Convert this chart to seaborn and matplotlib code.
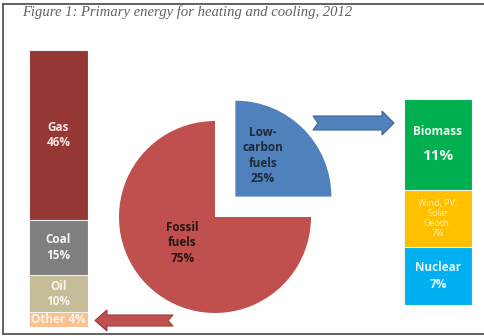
import numpy as np
import pandas as pd
import matplotlib
matplotlib.use("Agg")
import matplotlib.pyplot as plt
from matplotlib.patches import Polygon
from matplotlib.lines import Line2D
import seaborn as sns

# ---- data -------------------------------------------------------------
title = "Figure 1: Primary energy for heating and cooling, 2012"

pie_labels = ["Low-\ncarbon\nfuels", "Fossil\nfuels"]
pie_values = [25, 75]

fossil_names = ["Other", "Oil", "Coal", "Gas"]          # bottom -> top
fossil_values = [4, 10, 15, 46]

lowc_names = ["Nuclear", "Wind, PV,\nSolar\nGeoth.", "Biomass"]  # bottom -> top
lowc_values = [7, 7, 11]

# ---- style ------------------------------------------------------------
sns.set_style("white")
plt.rcParams["font.family"] = ["Open Sans", "DejaVu Sans"]

fossil_colors = {"Gas": "#953735", "Coal": "#7F7F7F", "Oil": "#C4BD97", "Other": "#FAC090"}
fossil_text = {"Gas": "#F6E3E3", "Coal": "#F4F4F4", "Oil": "#F7F5EC", "Other": "#FFF1E4"}
lowc_colors = {"Biomass": "#00B050", "Wind, PV,\nSolar\nGeoth.": "#FFC000", "Nuclear": "#00B0F0"}
lowc_text = {"Biomass": "#E8F8EE", "Wind, PV,\nSolar\nGeoth.": "#FFF0C4", "Nuclear": "#E6F7FE"}
pie_colors = ["#4F81BD", "#C0504D"]

W, H = 485, 336
fig = plt.figure(figsize=(W / 100, H / 100), dpi=100)
fig.patch.set_facecolor("white")


def px_axes(x0, y0, x1, y1):
    """Axes from a pixel box given with y measured from the top."""
    return fig.add_axes([x0 / W, 1 - y1 / H, (x1 - x0) / W, (y1 - y0) / H])


def stacked_column(ax, names, values, colors, total):
    df = pd.DataFrame({"name": names, "value": values})
    df["top"] = df["value"].cumsum()
    # draw tallest cumulative bar first so each smaller one sits on top
    for _, row in df.iloc[::-1].iterrows():
        sns.barplot(x=["col"], y=[row["top"]], color=colors[row["name"]],
                    saturation=1, width=1, edgecolor="#F2F2F2", linewidth=0.8,
                    ax=ax)
    ax.set_xlim(-0.5, 0.5)
    ax.set_ylim(0, total)
    ax.set_axis_off()
    return df


# ---- left column: fossil breakdown -----------------------------------
ax_f = px_axes(29, 50, 88, 327)
df_f = stacked_column(ax_f, fossil_names, fossil_values, fossil_colors, sum(fossil_values))
for _, row in df_f.iterrows():
    mid = row["top"] - row["value"] / 2
    if row["value"] >= 8:
        txt = f"{row['name']}\n{row['value']}%"
    else:
        txt = f"{row['name']} {row['value']}%"
    ax_f.text(0, mid, txt, ha="center", va="center", color=fossil_text[row["name"]],
              fontsize=8.5, fontweight="bold", linespacing=1.25)

# ---- right column: low-carbon breakdown ------------------------------
ax_l = px_axes(404, 99, 472, 305)
df_l = stacked_column(ax_l, lowc_names, lowc_values, lowc_colors, sum(lowc_values))
for _, row in df_l.iterrows():
    mid = row["top"] - row["value"] / 2
    name = row["name"]
    if name == "Biomass":
        ax_l.text(0, mid + 1.5, name, ha="center", va="center", color=lowc_text[name],
                  fontsize=8.5, fontweight="bold")
        ax_l.text(0, mid - 1.4, f"{row['value']}%", ha="center", va="center",
                  color=lowc_text[name], fontsize=11, fontweight="bold")
    elif name == "Nuclear":
        ax_l.text(0, mid, f"{name}\n{row['value']}%", ha="center", va="center",
                  color=lowc_text[name], fontsize=8.5, fontweight="bold", linespacing=1.35)
    else:
        ax_l.text(0, mid, f"{name}\n{row['value']}%", ha="center", va="center",
                  color=lowc_text[name], fontsize=6.5, linespacing=1.1)

# ---- pie: fossil vs low-carbon ---------------------------------------
cx, cy, r = 215, 217, 96
ax_p = px_axes(90, 80, 340, 330)
ax_p.pie(pie_values, colors=pie_colors, startangle=0, counterclock=True,
         explode=[0.3, 0], radius=1, wedgeprops={"linewidth": 0})
ax_p.set_aspect("auto")
ax_p.set_xlim((90 - cx) / r, (340 - cx) / r)
ax_p.set_ylim((cy - 330) / r, (cy - 80) / r)
ax_p.set_axis_off()
ax_p.text(0.50, 0.64, f"{pie_labels[0]}\n{pie_values[0]}%", ha="center", va="center",
          color="#1F2A3A", fontsize=8.5, fontweight="bold", linespacing=1.25)
ax_p.text(-0.34, -0.27, f"{pie_labels[1]}\n{pie_values[1]}%", ha="center", va="center",
          color="#2A1515", fontsize=8.5, fontweight="bold", linespacing=1.25)

# ---- overlay: frame, arrows, title -----------------------------------
ov = fig.add_axes([0, 0, 1, 1])
ov.set_xlim(0, W)
ov.set_ylim(H, 0)
ov.set_axis_off()
ov.patch.set_visible(False)

for xs, ys in [([3, W], [3.5, 3.5]), ([3, 3], [3.5, 334]), ([3, W], [334, 334])]:
    ov.add_line(Line2D(xs, ys, color="#555555", lw=1.3))

# blue arrow pointing right, notched tail
blue_arrow = [(313, 116), (382, 116), (382, 111), (394, 123), (382, 135),
              (382, 130), (313, 130), (318, 123)]
ov.add_patch(Polygon(blue_arrow, closed=True, facecolor="#4F81BD",
                     edgecolor="#3C6596", lw=0.8))

# red arrow pointing left, notched tail
red_arrow = [(173, 315), (107, 315), (107, 310), (95, 320.5), (107, 331),
             (107, 326), (173, 326), (168, 320.5)]
ov.add_patch(Polygon(red_arrow, closed=True, facecolor="#C0504D",
                     edgecolor="#9A3A38", lw=0.8))

ov.text(22, 16, title, ha="left", va="baseline", color="#606060",
        family=["Liberation Serif", "DejaVu Serif"], style="italic", fontsize=10.5)

fig.savefig("out.png", dpi=100, facecolor="white")
